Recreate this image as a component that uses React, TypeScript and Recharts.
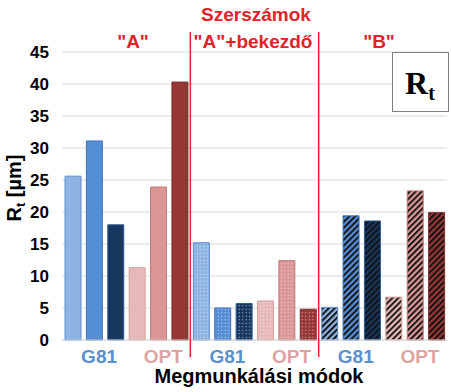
import { BarChart, Bar, XAxis, YAxis, CartesianGrid, Cell } from 'recharts';

// Rt values, per tool group: G81 light/mid/dark, then OPT light/mid/dark
const toolLabels = ['"A"', '"A"+bekezdő', '"B"'];
const modes = ['G81', 'OPT'];
const valuesA = [25.6, 31.1, 18.0, 11.3, 23.9, 40.3];
const valuesAB = [15.2, 5.0, 5.7, 6.1, 12.4, 4.8];
const valuesB = [5.1, 19.4, 18.6, 6.7, 23.3, 19.9];
const yTicks = [0, 5, 10, 15, 20, 25, 30, 35, 40, 45];

const toolValues = [valuesA, valuesAB, valuesB];

const W = 451;
const H = 392;
const MARGIN = { top: 52, right: 4, left: 0, bottom: 22 };
const Y_W = 62;
const X_H = 30;
const PLOT_W = W - MARGIN.left - MARGIN.right - Y_W;
const PLOT_H = H - MARGIN.top - MARGIN.bottom - X_H;

const FONT = '"Liberation Sans", Arial, sans-serif';
const RED = '#E2232A';

const FILLS = [
  ['#8DB4E2', '#558ED5', '#17375E'],
  ['#E6B9B8', '#D99694', '#953735'],
];
const STROKES = [
  ['#5F8FCB', '#3F73B8', '#2B5C95'],
  ['#D4A1A0', '#C07A78', '#7E2C2A'],
];
const TICK_COLORS = ['#5C8FCD', '#DDA3A2'];

const data = toolValues.flatMap((vals, ti) =>
  modes.flatMap((m, mi) =>
    [0, 1, 2].map(si => ({
      key: `${ti}-${m}-${si}`,
      tool: ti,
      mode: mi,
      shade: si,
      value: vals[mi * 3 + si],
    }))
  )
);

const step = PLOT_W / data.length;

function CatTick(props: any) {
  const { x, y, index } = props;
  const mi = Math.floor(index / 3) % 2;
  return (
    <g>
      {index % 3 === 1 && (
        <text
          x={x + 5}
          y={y + 23}
          textAnchor="middle"
          fontFamily={FONT}
          fontWeight="bold"
          fontSize={19}
          fill={TICK_COLORS[mi]}
        >
          {modes[mi]}
        </text>
      )}
      {index % 6 === 5 && index < data.length - 1 && (
        <line
          x1={x + step / 2}
          x2={x + step / 2}
          y1={y - PLOT_H - 20}
          y2={y + 17}
          stroke={RED}
          strokeWidth={1.5}
        />
      )}
    </g>
  );
}

export default function App() {
  return (
    <div style={{ position: 'absolute', left: 0, top: 0, width: W, height: H, background: '#fff' }}>
      <BarChart width={W} height={H} data={data} margin={MARGIN} barSize={16}>
        <defs>
          {[0, 1].map(mi =>
            [0, 1, 2].map(si => (
              <pattern
                key={`d-${mi}-${si}`}
                id={`dots-${mi}-${si}`}
                width={3.5}
                height={3.5}
                patternUnits="userSpaceOnUse"
              >
                <rect width={3.5} height={3.5} fill={FILLS[mi][si]} />
                <circle cx={1.2} cy={1.2} r={0.6} fill="#ffffff" opacity={0.85} />
              </pattern>
            ))
          )}
          {[0, 1].map(mi =>
            [0, 1, 2].map(si => (
              <pattern
                key={`h-${mi}-${si}`}
                id={`hatch-${mi}-${si}`}
                width={4.2}
                height={4.2}
                patternUnits="userSpaceOnUse"
                patternTransform="rotate(45)"
              >
                <rect width={4.2} height={4.2} fill={FILLS[mi][si]} />
                <line x1={1} y1={0} x2={1} y2={4.2} stroke="#111" strokeWidth={1.9} />
              </pattern>
            ))
          )}
        </defs>
        <CartesianGrid vertical={false} stroke="#D9D9D9" />
        <XAxis
          dataKey="key"
          height={X_H}
          interval={0}
          tick={<CatTick />}
          tickLine={false}
          tickSize={0}
          tickMargin={0}
          axisLine={{ stroke: '#D9D9D9' }}
        />
        <YAxis
          width={Y_W}
          domain={[0, 45]}
          ticks={yTicks}
          interval={0}
          axisLine={false}
          tickLine={false}
          tickSize={0}
          tickMargin={13}
          tick={{ fill: '#000', fontFamily: FONT, fontWeight: 'bold', fontSize: 17 }}
        />
        <Bar dataKey="value" isAnimationActive={false} strokeWidth={1}>
          {data.map(d => (
            <Cell
              key={d.key}
              fill={
                d.tool === 0
                  ? FILLS[d.mode][d.shade]
                  : d.tool === 1
                  ? `url(#dots-${d.mode}-${d.shade})`
                  : `url(#hatch-${d.mode}-${d.shade})`
              }
              stroke={STROKES[d.mode][d.shade]}
            />
          ))}
        </Bar>
      </BarChart>
      <svg
        width={W}
        height={H}
        style={{ position: 'absolute', left: 0, top: 0, pointerEvents: 'none' }}
      >
        <g fontFamily={FONT} fontWeight="bold" fill={RED} textAnchor="middle">
          <text x={256} y={21} fontSize={19}>Szerszámok</text>
          <text x={133} y={48} fontSize={19}>{toolLabels[0]}</text>
          <text x={253} y={48} fontSize={19}>{toolLabels[1]}</text>
          <text x={379} y={48} fontSize={19}>{toolLabels[2]}</text>
        </g>
        <text
          x={259}
          y={383}
          textAnchor="middle"
          fontFamily={FONT}
          fontWeight="bold"
          fontSize={20}
          fill="#000"
        >
          Megmunkálási módok
        </text>
        <text
          transform="translate(21,188) rotate(-90)"
          textAnchor="middle"
          fontFamily={FONT}
          fontWeight="bold"
          fontSize={20}
          fill="#000"
        >
          R<tspan fontSize={13} dy={4}>t</tspan>
          <tspan dy={-4}> [µm]</tspan>
        </text>
        <rect x={392.5} y={52.5} width={56} height={59} fill="#fff" stroke="#7F7F7F" />
        <text
          x={420}
          y={94}
          textAnchor="middle"
          fontFamily='"Liberation Serif", "Times New Roman", serif'
          fontWeight="bold"
          fontSize={32}
          fill="#000"
        >
          R<tspan fontSize={20} dy={6}>t</tspan>
        </text>
      </svg>
    </div>
  );
}
